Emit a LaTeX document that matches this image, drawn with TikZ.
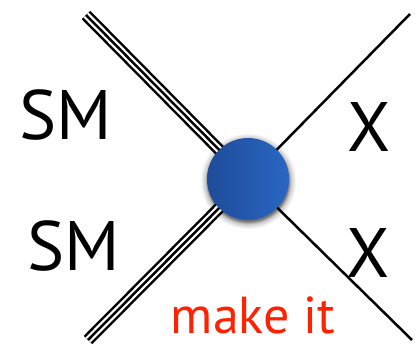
\documentclass[tikz,border=0pt]{standalone}
\usepackage{fontspec}
\setmainfont{PT Sans}
\usetikzlibrary{backgrounds}
\definecolor{blobdark}{HTML}{1F4C99}
\definecolor{bloblight}{HTML}{2966C3}
\definecolor{makered}{HTML}{FF2200}
% path radius maps to 25bp
\pgfdeclareradialshading{halo}{\pgfpoint{0bp}{0bp}}{%
  color(0bp)=(black!55); color(20bp)=(black!55); color(21.5bp)=(black!20);
  color(24bp)=(white); color(50bp)=(white)}

\begin{document}
\begin{tikzpicture}[x=1pt, y=-1pt,
    single/.style={draw=black, line width=2.5pt},
    triple/.style={draw=black, line width=2.5pt, double=white, double distance=7pt,
                   postaction={draw=black, line width=2.5pt}},
    blob/.style={circle, minimum size=82pt, inner sep=0pt,
                 left color=blobdark, right color=bloblight},
    lbl/.style={anchor=base, font=\fontsize{70}{70}\selectfont},
    mklbl/.style={anchor=base, text=makered, font=\fontsize{52}{52}\selectfont},
  ]
  \useasboundingbox (0,0) rectangle (415,350);

  % ===== vertex =====
  \node[blob] (v) at (248,179) {};

  % ===== external legs =====
  \coordinate (sm1) at (86,15);
  \coordinate (sm2) at (88,340);
  \coordinate (x1) at (410,14);
  \coordinate (x2) at (412,340);
  \begin{scope}[on background layer]
    \shade[shading=halo] ([yshift=-2pt]v.center) circle (50);
    \draw[triple] (sm1) -- (v.center);
    \draw[triple] (sm2) -- (v.center);
    \draw[single] (x1) -- (v.center);
    \draw[single] (x2) -- (v.center);
  \end{scope}

  % ===== labels =====
  \node[lbl] (smup) at (66,140) {SM};
  \node[lbl] (smdn) at (74,270) {SM};
  \node[lbl] (xup) at (369,152) {X};
  \node[lbl] (xdn) at (368,277) {X};
  \node[mklbl] (mk) at (253,333) {make it};
\end{tikzpicture}
\end{document}
